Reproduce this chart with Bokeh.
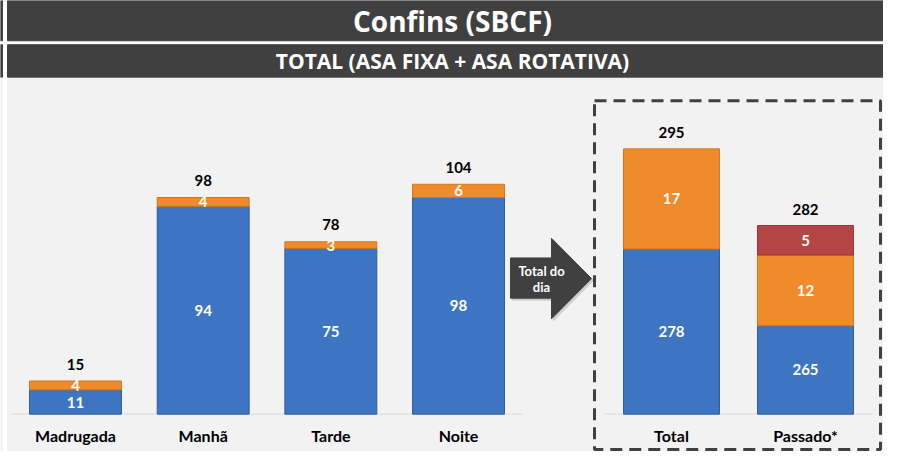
from bokeh.plotting import figure
from bokeh.models import Range1d
from bokeh.core.properties import value
from bokeh.embed import file_html
from bokeh.resources import INLINE

# ---------------- data ----------------
title_main = "Confins (SBCF)"
title_sub = "TOTAL (ASA FIXA + ASA ROTATIVA)"
arrow_text = ["Total do", "dia"]

periods = ["Madrugada", "Manhã", "Tarde", "Noite"]
fixa_periods = [11, 94, 75, 98]
rotativa_periods = [4, 4, 3, 6]
total_periods = [15, 98, 78, 104]

summary = ["Total", "Passado*"]
fixa_summary = [278, 265]
rotativa_summary = [17, 12]
outros_summary = [0, 5]
total_summary = [295, 282]
summary_axis_min = 250

# ---------------- style ----------------
W, H = 883, 451
BLUE = "#3d75c2"
BLUE_EDGE = "#2f5d9c"
ORANGE = "#f08b2b"
ORANGE_EDGE = "#d0761f"
RED = "#b54444"
RED_EDGE = "#983636"
DARK = "#404040"
BG = "#f2f2f2"
NUM_FONT = value("Lato")
SY = H / 459.0  # vertical squeeze so the whole reference fits


def cx(x):  # reference-pixel -> canvas
    return x - 8


def cy(y):
    return H - (y - 4) * SY


p = figure(width=W, height=H, x_range=Range1d(0, W), y_range=Range1d(0, H),
           output_backend="svg", toolbar_location=None, min_border=0,
           x_axis_type=None, y_axis_type=None, outline_line_color=None,
           background_fill_color="white", border_fill_color="white")
p.xgrid.visible = False
p.ygrid.visible = False

# panel scales
base_px = cy(425)
left_ppu = 2.25 * SY
right_ppu = 6.0 * SY
p.extra_y_ranges = {
    "ly": Range1d(-base_px / left_ppu, (H - base_px) / left_ppu),
    "ry": Range1d(summary_axis_min - base_px / right_ppu,
                  summary_axis_min + (H - base_px) / right_ppu),
}
l0, lstep = cx(83), 127.67
r0, rstep = cx(679), 134.0
p.extra_x_ranges = {
    "lx": Range1d(-l0 / lstep, (W - l0) / lstep),
    "rx": Range1d(-r0 / rstep, (W - r0) / rstep),
}

# ---------------- background & headers ----------------
p.quad(left=[cx(15)], right=[W], top=[cy(83)], bottom=[0], color=BG)
p.quad(left=[0], right=[cx(10)], top=[cy(83)], bottom=[0], color=BG)
p.quad(left=[0, 0], right=[cx(10), cx(10)], top=[cy(4), cy(49)],
       bottom=[cy(45), cy(82)], color=DARK)
p.quad(left=[cx(15), cx(15)], right=[W, W], top=[cy(4), cy(49)],
       bottom=[cy(45), cy(82)], color=DARK)
p.text(x=[cx(460)], y=[cy(25)], text=[title_main], text_color="white",
       text_font=value("Open Sans"), text_font_style="bold",
       text_font_size="28px", text_align="center", text_baseline="middle")
p.text(x=[cx(460)], y=[cy(65.5)], text=[title_sub], text_color="white",
       text_font=value("Open Sans"), text_font_style="bold",
       text_font_size="21px", text_align="center", text_baseline="middle")

# ---------------- left panel ----------------
xl = list(range(len(periods)))
p.segment(x0=[-0.5], x1=[len(periods) - 0.5], y0=[0], y1=[0],
          x_range_name="lx", y_range_name="ly", line_color="#d9d9d9", line_width=1)
lb_top = [f + r for f, r in zip(fixa_periods, rotativa_periods)]
p.vbar(x=xl, width=0.72, bottom=0, top=fixa_periods, x_range_name="lx",
       y_range_name="ly", fill_color=BLUE, line_color=BLUE_EDGE)
p.vbar(x=xl, width=0.72, bottom=fixa_periods, top=lb_top, x_range_name="lx",
       y_range_name="ly", fill_color=ORANGE, line_color=ORANGE_EDGE)

p.text(x=xl, y=[f / 2 for f in fixa_periods], text=[str(v) for v in fixa_periods],
       x_range_name="lx", y_range_name="ly", text_color="white",
       text_font=NUM_FONT, text_font_style="bold", text_font_size="15px",
       text_align="center", text_baseline="middle")
p.text(x=xl, y=[f + r / 2 for f, r in zip(fixa_periods, rotativa_periods)],
       text=[str(v) for v in rotativa_periods],
       x_range_name="lx", y_range_name="ly", text_color="white",
       text_font=NUM_FONT, text_font_style="bold", text_font_size="15px",
       text_align="center", text_baseline="middle")
p.text(x=xl, y=total_periods, text=[str(v) for v in total_periods],
       x_range_name="lx", y_range_name="ly", y_offset=-17, text_color="black",
       text_font=NUM_FONT, text_font_style="bold", text_font_size="15px",
       text_align="center", text_baseline="middle")
p.text(x=xl, y=[cy(447)] * len(periods), text=periods, x_range_name="lx",
       text_color="black", text_font=NUM_FONT, text_font_style="bold",
       text_font_size="16px", text_align="center", text_baseline="middle")

# ---------------- arrow ----------------
ax = [518, 559, 559, 599, 559, 559, 518]
ay = [266, 266, 246, 287, 328, 307, 307]
p.patch(x=[cx(v) + 2 for v in ax], y=[cy(v) - 2 for v in ay], color="#bdbdbd", alpha=0.6)
p.patch(x=[cx(v) for v in ax], y=[cy(v) for v in ay], color=DARK)
p.text(x=[cx(549), cx(549)], y=[cy(279), cy(296)], text=arrow_text,
       text_color="white", text_font=NUM_FONT, text_font_style="bold",
       text_font_size="13px", text_align="center", text_baseline="middle")

# ---------------- right panel ----------------
xr = list(range(len(summary)))
p.segment(x0=[-0.5], x1=[len(summary) - 0.5], y0=[summary_axis_min],
          y1=[summary_axis_min], x_range_name="rx", y_range_name="ry",
          line_color="#d9d9d9", line_width=1)
s1 = list(fixa_summary)
s2 = [a + b for a, b in zip(s1, rotativa_summary)]
s3 = [a + b for a, b in zip(s2, outros_summary)]
p.vbar(x=xr, width=0.716, bottom=summary_axis_min, top=s1, x_range_name="rx",
       y_range_name="ry", fill_color=BLUE, line_color=BLUE_EDGE)
p.vbar(x=xr, width=0.716, bottom=s1, top=s2, x_range_name="rx",
       y_range_name="ry", fill_color=ORANGE, line_color=ORANGE_EDGE)
ri = [i for i, v in enumerate(outros_summary) if v > 0]
p.vbar(x=ri, width=0.716, bottom=[s2[i] for i in ri], top=[s3[i] for i in ri],
       x_range_name="rx", y_range_name="ry", fill_color=RED, line_color=RED_EDGE)

p.text(x=xr, y=[(summary_axis_min + a) / 2 for a in s1], text=[str(v) for v in fixa_summary],
       x_range_name="rx", y_range_name="ry", text_color="white",
       text_font=NUM_FONT, text_font_style="bold", text_font_size="15px",
       text_align="center", text_baseline="middle")
p.text(x=xr, y=[(a + b) / 2 for a, b in zip(s1, s2)], text=[str(v) for v in rotativa_summary],
       x_range_name="rx", y_range_name="ry", text_color="white",
       text_font=NUM_FONT, text_font_style="bold", text_font_size="15px",
       text_align="center", text_baseline="middle")
p.text(x=ri, y=[(s2[i] + s3[i]) / 2 for i in ri], text=[str(outros_summary[i]) for i in ri],
       x_range_name="rx", y_range_name="ry", text_color="white",
       text_font=NUM_FONT, text_font_style="bold", text_font_size="15px",
       text_align="center", text_baseline="middle")
p.text(x=xr, y=total_summary, text=[str(v) for v in total_summary],
       x_range_name="rx", y_range_name="ry", y_offset=-16, text_color="black",
       text_font=NUM_FONT, text_font_style="bold", text_font_size="15px",
       text_align="center", text_baseline="middle")
p.text(x=xr, y=[cy(447)] * len(summary), text=summary, x_range_name="rx",
       text_color="black", text_font=NUM_FONT, text_font_style="bold",
       text_font_size="16px", text_align="center", text_baseline="middle")

# dashed frame around the summary
p.quad(left=[cx(602)], right=[cx(888)], top=[cy(106)], bottom=[2],
       fill_alpha=0, line_color=DARK, line_width=3, line_dash="12 7")

open("out.html", "w").write(file_html(p, INLINE))
